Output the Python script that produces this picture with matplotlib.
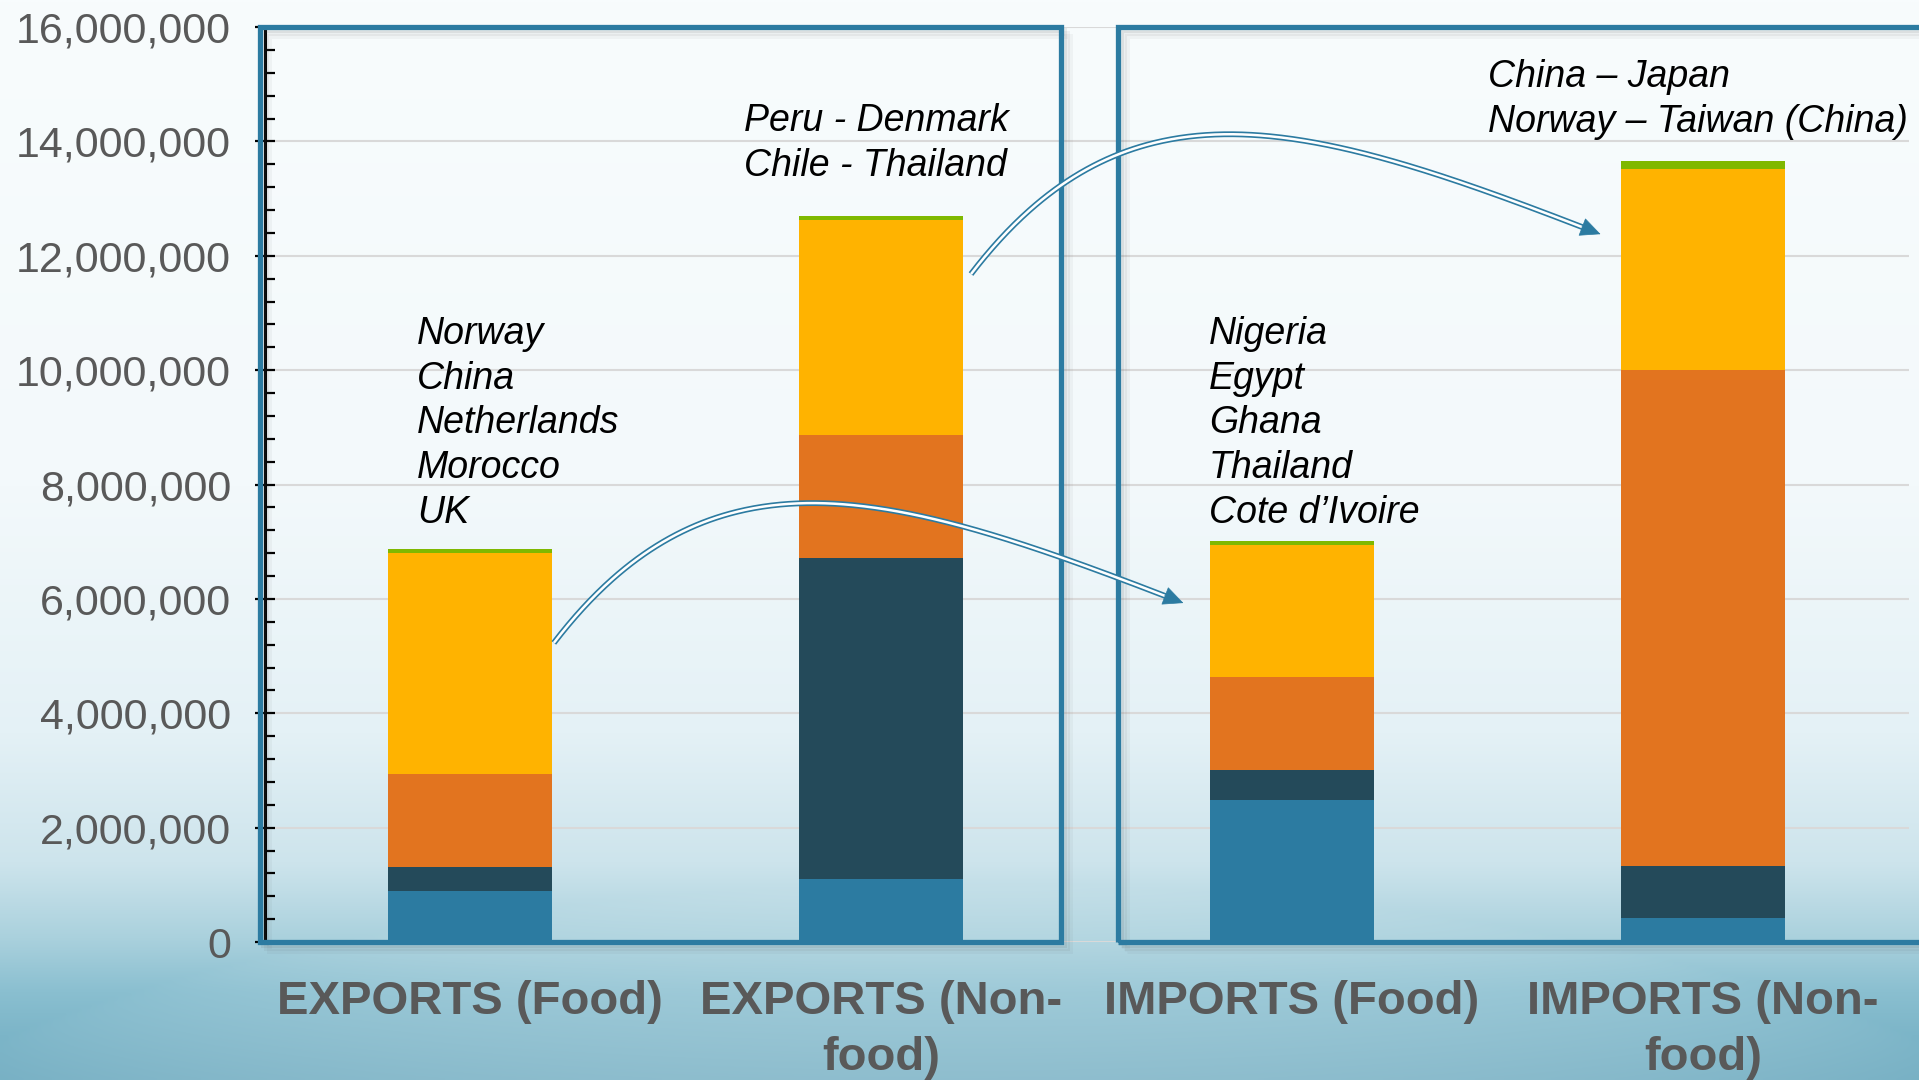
import matplotlib.pyplot as plt
import numpy as np
from matplotlib.patches import Rectangle, FancyArrowPatch
from matplotlib.ticker import MultipleLocator, FuncFormatter

plt.rcParams['font.family'] = ['Liberation Sans', 'DejaVu Sans']

# Data
categories = ['EXPORTS (Food)', 'EXPORTS (Non-\nfood)', 'IMPORTS (Food)', 'IMPORTS (Non-\nfood)']
seg_teal = [890000, 1110000, 2490000, 420000]
seg_dark = [430000, 5610000, 520000, 910000]
seg_orange = [1610000, 2150000, 1620000, 8670000]
seg_yellow = [3880000, 3750000, 2320000, 3520000]
seg_green = [70000, 80000, 70000, 140000]
notes = ['Norway\nChina\nNetherlands\nMorocco\nUK',
         'Peru - Denmark\nChile - Thailand',
         'Nigeria\nEgypt\nGhana\nThailand\nCote d\u2019Ivoire',
         'China \u2013 Japan\nNorway \u2013 Taiwan (China)']

colors = ['#2C7BA1', '#244A5A', '#E2741F', '#FFB300', '#7FB800']
teal = '#2C7BA1'
W, H = 1919, 1080

fig = plt.figure(figsize=(W / 100, H / 100), dpi=100)

# background gradient (slide theme)
bg = fig.add_axes([0, 0, 1, 1], zorder=0)
gh, gw = 270, 480
yy = np.linspace(0, 1, gh)[:, None] * np.ones((1, gw))
xx = np.ones((gh, 1)) * np.linspace(0, 1, gw)[None, :]
stops = [0, 0.45, 0.68, 0.8, 0.87, 0.92, 1.0]
cols = np.array([[248, 252, 253], [243, 249, 251], [228, 241, 246],
                 [205, 228, 236], [170, 209, 221], [138, 191, 208], [110, 171, 192]]) / 255
img = np.zeros((gh, gw, 3))
for c in range(3):
    img[..., c] = np.interp(yy, stops, cols[:, c])
d = ((xx - 0.5) / 0.65) ** 2 + ((yy - 1.22) / 0.4) ** 2
glow = np.clip(1 - d, 0, 1) ** 0.6 * 0.28
img = img * (1 - glow[..., None]) + glow[..., None]
bg.imshow(img, extent=[0, 1, 0, 1], aspect='auto', interpolation='bilinear')
bg.set_axis_off()

# main axes
x0, x1, ytop, ybot = 264.5, 1908.5, 27, 942
ax = fig.add_axes([x0 / W, 1 - ybot / H, (x1 - x0) / W, (ybot - ytop) / H], zorder=1)
ax.patch.set_alpha(0)

x = np.arange(len(categories))
bottom = np.zeros(len(categories))
for vals, col in zip([seg_teal, seg_dark, seg_orange, seg_yellow, seg_green], colors):
    ax.bar(x, vals, width=0.4, bottom=bottom, color=col, zorder=2)
    bottom += np.array(vals)

ax.set_xlim(-0.5, 3.5)
ax.set_ylim(0, 16000000)
ax.yaxis.set_major_locator(MultipleLocator(2000000))
ax.yaxis.set_minor_locator(MultipleLocator(400000))
ax.yaxis.set_major_formatter(FuncFormatter(lambda v, p: f'{v:,.0f}'))
ax.grid(axis='y', color='#D9D9D9', lw=1.5, zorder=0)
ax.set_axisbelow(True)
ax.tick_params(axis='y', which='major', direction='inout', length=14, width=1.6,
               color='black', labelsize=31, labelcolor='#595959', pad=17)
ax.tick_params(axis='y', which='minor', direction='in', length=7, width=1.6, color='black')
ax.set_xticks(x)
ax.set_xticklabels(categories, fontsize=34, fontweight='bold', color='#595959', linespacing=1.38)
ax.tick_params(axis='x', length=0, pad=27)
for s in ['top', 'right', 'bottom']:
    ax.spines[s].set_visible(False)
ax.spines['left'].set_linewidth(2.2)
ax.spines['left'].set_color('black')


def px(xp, yp):
    return xp / W, 1 - yp / H


# framed panels with soft shadows
for (fx0, fx1) in [(260, 1061), (1118, 1930)]:
    for k, a in [(9, 0.05), (6, 0.07), (3, 0.10)]:
        sx, sy = px(fx0 + k, ybot + k)
        r = Rectangle((sx, sy), (fx1 - fx0) / W, (ybot - 27) / H, transform=fig.transFigure,
                      fill=False, edgecolor='#555555', lw=3.6, alpha=a, clip_on=False, zorder=3)
        ax.add_patch(r)
    sx, sy = px(fx0, ybot)
    r = Rectangle((sx, sy), (fx1 - fx0) / W, (ybot - 27) / H, transform=fig.transFigure,
                  fill=False, edgecolor=teal, lw=3.8, clip_on=False, zorder=4)
    ax.add_patch(r)


# double-line curved arrows
def double_arrow(p0, p1, p2, p3):
    t = np.linspace(0, 1, 400)[:, None]
    p0, p1, p2, p3 = [np.array(p, dtype=float) for p in (p0, p1, p2, p3)]
    pts = (1 - t) ** 3 * p0 + 3 * (1 - t) ** 2 * t * p1 + 3 * (1 - t) * t ** 2 * p2 + t ** 3 * p3
    disp = ax.transData.transform(pts)
    dist = np.hypot(*(disp - disp[-1]).T)
    cut = np.where(dist > 18)[0][-1]
    ax.plot(pts[:cut + 1, 0], pts[:cut + 1, 1], color=teal, lw=4.2, zorder=5,
            solid_capstyle='butt', clip_on=False)
    ax.plot(pts[:cut + 1, 0], pts[:cut + 1, 1], color='white', lw=1.8, zorder=5.1,
            solid_capstyle='butt', clip_on=False)
    ar = FancyArrowPatch(tuple(pts[cut - 3]), tuple(pts[-1]),
                         arrowstyle='-|>,head_length=0.45,head_width=0.21', mutation_scale=30,
                         color=teal, lw=0.5, zorder=5.2, clip_on=False)
    ax.add_patch(ar)


double_arrow((0.204, 5230000), (0.59, 8850000), (1.03, 7900000), (1.742, 5910000))
double_arrow((1.219, 11680000), (1.605, 15300000), (2.045, 14350000), (2.757, 12360000))

# country annotations
note_pos = [(-0.129, 9070000), (0.667, 13965000), (1.798, 9070000), (2.477, 14730000)]
for txt, (nx, ny) in zip(notes, note_pos):
    ax.text(nx, ny, txt, fontsize=27, style='italic', color='black', ha='left',
            va='center', linespacing=1.31, zorder=6)

fig.savefig('out.png', dpi=100)
